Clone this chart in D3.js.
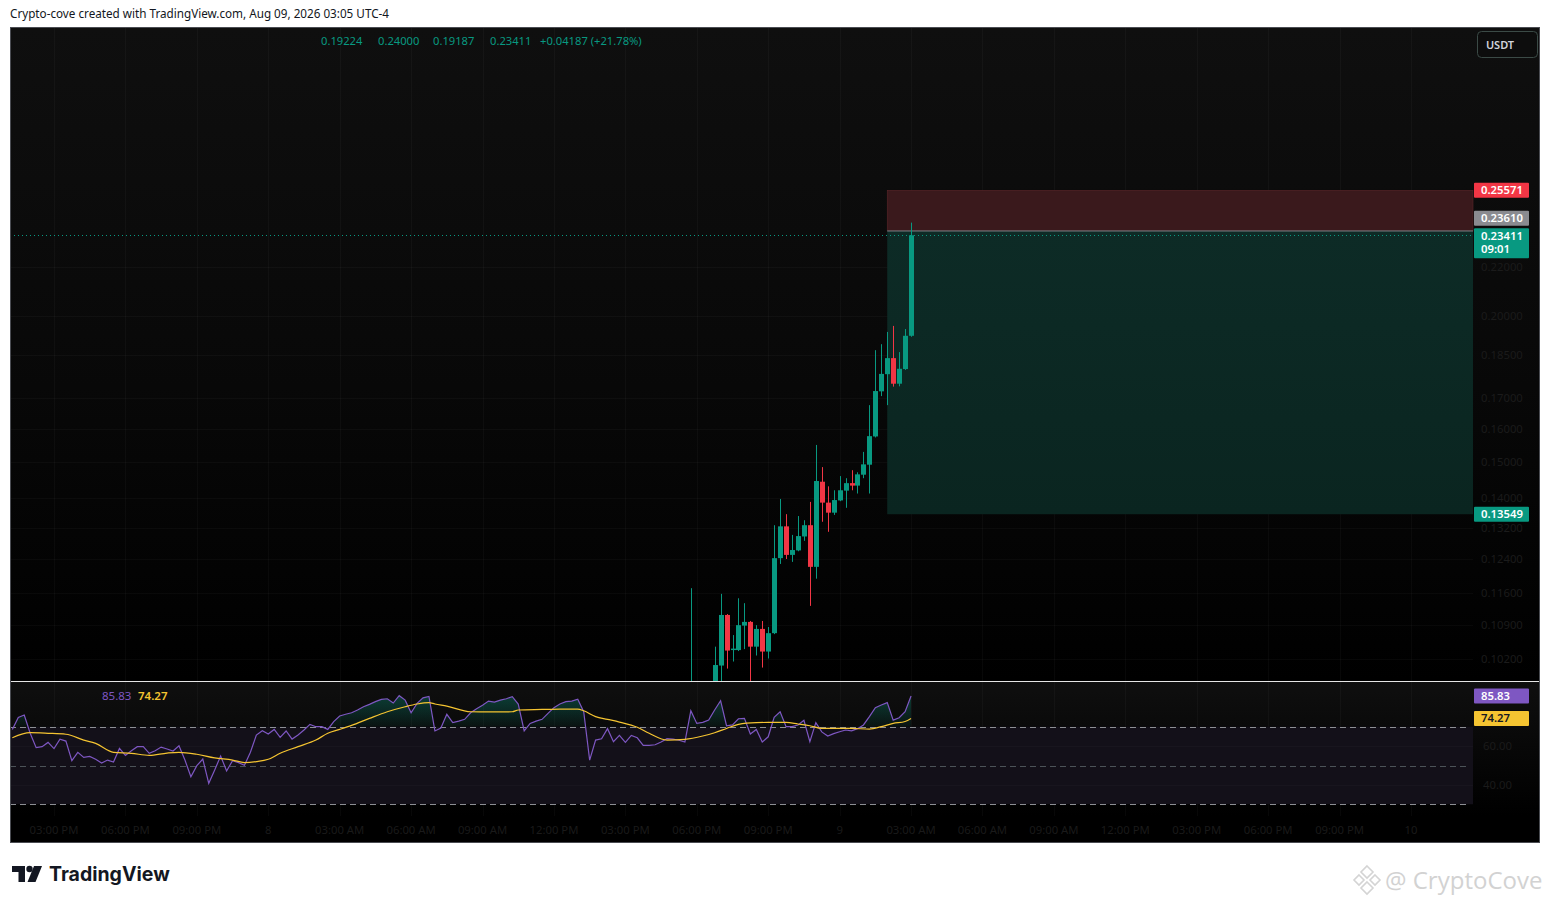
<!DOCTYPE html>
<html><head><meta charset="utf-8">
<script src="https://cdn.jsdelivr.net/npm/d3@7"></script>
<style>html,body{margin:0;padding:0;background:#fff;overflow:hidden}svg{display:block}</style>
</head><body>
<svg id="c" width="1551" height="904"></svg>
<script>
// ---------------- DATA ----------------
const candleStart = new Date(2026, 7, 8, 17, 45);   // first candle (15-minute bars)
const barMinutes = 15;
const candleOpen  = [0.0955,0.0968,0.0962,0.0958,0.0968,0.1007,0.1112,0.1038,0.1038,0.1089,0.1097,0.1045,0.1082,0.1035,0.1073,0.1243,0.1323,0.1251,0.1262,0.1297,0.1326,0.1222,0.1444,0.1386,0.1359,0.1392,0.1419,0.1440,0.1433,0.1464,0.1493,0.1578,0.1724,0.1783,0.1840,0.1750,0.1801,0.19224];
const candleHigh  = [0.1172,0.0975,0.0972,0.0970,0.1045,0.1159,0.1114,0.1069,0.1149,0.1138,0.1099,0.1090,0.1099,0.1086,0.1326,0.1396,0.1355,0.1301,0.1350,0.1339,0.1388,0.1552,0.1486,0.1431,0.1420,0.1460,0.1454,0.1477,0.1471,0.1531,0.1678,0.1869,0.1891,0.1937,0.1960,0.1862,0.1948,0.24000];
const candleLow   = [0.0950,0.0955,0.0950,0.0952,0.0962,0.0972,0.1001,0.1015,0.1036,0.1040,0.0975,0.1027,0.1003,0.1021,0.1071,0.1229,0.1241,0.1234,0.1260,0.1286,0.1132,0.1194,0.1335,0.1309,0.1353,0.1390,0.1372,0.1420,0.1411,0.1454,0.1411,0.1575,0.1708,0.1678,0.1740,0.1741,0.1798,0.19187];
const candleClose = [0.0968,0.0962,0.0958,0.0966,0.1008,0.1112,0.1037,0.1041,0.1090,0.1097,0.1045,0.1082,0.1035,0.1073,0.1243,0.1323,0.1251,0.1263,0.1298,0.1326,0.1222,0.1446,0.1386,0.1359,0.1393,0.1420,0.1440,0.1433,0.1465,0.1494,0.1579,0.1725,0.1784,0.1840,0.1750,0.1802,0.19224,0.23411];

const rsiStart = new Date(2026, 7, 7, 13, 15);
const rsiValues = [68.6,74.8,76.0,66.6,59.2,59.7,61.9,58.7,63.6,62.6,52.5,56.8,54.2,54.7,53.2,51.3,52.8,51.8,58.8,55.2,
  57.6,59.7,59.7,56.3,57.6,59.5,58.5,57.5,60.2,52.8,44.2,49.9,53.3,40.8,47.7,54.9,47.2,52.5,51.5,50.1,
  56.8,65.7,67.9,66.2,68.6,64.5,67.8,63.6,65.7,68.3,71.2,70.0,70.0,68.6,72.6,75.5,76.4,77.2,78.6,80.3,
  81.5,82.9,84.1,84.4,82.2,86.0,83.7,77.2,82.0,84.9,85.6,67.8,69.3,76.4,72.1,72.9,73.8,77.2,79.3,81.0,
  83.2,82.7,83.7,84.4,85.5,81.7,67.8,71.7,72.9,73.8,76.9,79.8,81.7,82.9,83.2,84.2,77.7,52.8,63.1,63.8,
  69.0,62.3,65.5,61.9,65.5,64.3,60.4,60.4,60.7,62.1,63.8,63.6,63.0,62.1,78.2,71.7,72.2,73.4,78.6,83.4,
  70.5,70.9,74.1,74.3,66.2,68.6,62.1,64.8,74.8,77.7,70.0,70.0,70.9,73.3,62.3,72.1,67.3,65.2,66.4,67.4,
  68.3,67.9,69.0,70.9,75.2,79.8,81.2,82.4,73.4,74.6,77.7,85.83];
const rsiMaIndex  = [0,3,6,9,12,14,17,20,23,26,28,31,34,37,39,41,43,45,48,51,53,55,57,60,63,66,68,70,71,73,77,80,84,85,89,92,95,96,98,100,102,105,107,110,113,116,118,120,122,125,127,130,132,134,136,139,141,144,146,148,150,151];
const rsiMaValues = [64.3,66.9,66.6,66.1,63.1,61.4,56.8,56.3,55.2,56.4,56.8,55.8,53.9,52.8,51.5,52.0,53.2,56.3,59.7,63.1,66.6,68.6,70.7,74.3,77.7,80.3,81.7,82.4,81.7,80.6,77.7,77.6,77.7,78.6,78.9,79.1,79.1,78.2,75.2,73.8,72.4,69.7,66.6,63.1,63.5,65.2,66.9,69.1,71.2,72.1,72.2,72.2,71.4,70.5,69.1,69.1,69.1,68.8,70.0,71.7,72.7,74.27];

const priceTicks = [0.22,0.20,0.185,0.17,0.16,0.15,0.14,0.132,0.124,0.116,0.109,0.102];
const priceTickLabels = ["0.22000","0.20000","0.18500","0.17000","0.16000","0.15000","0.14000","0.13200","0.12400","0.11600","0.10900","0.10200"];
const timeTicks = [
  new Date(2026,7,7,15),new Date(2026,7,7,18),new Date(2026,7,7,21),new Date(2026,7,8,0),
  new Date(2026,7,8,3),new Date(2026,7,8,6),new Date(2026,7,8,9),new Date(2026,7,8,12),
  new Date(2026,7,8,15),new Date(2026,7,8,18),new Date(2026,7,8,21),new Date(2026,7,9,0),
  new Date(2026,7,9,3),new Date(2026,7,9,6),new Date(2026,7,9,9),new Date(2026,7,9,12),
  new Date(2026,7,9,15),new Date(2026,7,9,18),new Date(2026,7,9,21),new Date(2026,7,10,0)];
const timeTickLabels = ["03:00 PM","06:00 PM","09:00 PM","8","03:00 AM","06:00 AM","09:00 AM","12:00 PM","03:00 PM","06:00 PM","09:00 PM","9","03:00 AM","06:00 AM","09:00 AM","12:00 PM","03:00 PM","06:00 PM","09:00 PM","10"];
const rsiLevels = [70,50,30];
const rsiTicks = [60,40];
const rsiTickLabels = ["60.00","40.00"];

const ohlcTexts = ["0.19224","0.24000","0.19187","0.23411","+0.04187 (+21.78%)"];
const stopPrice = 0.25571, entryPrice = 0.23610, lastPrice = 0.23411, targetPrice = 0.13549;
const positionStart = new Date(2026, 7, 9, 2, 0);
const countdown = "09:01";
const rsiLast = 85.83, rsiMaLast = 74.27;
const headerText = "Crypto-cove created with TradingView.com, Aug 09, 2026 03:05 UTC-4";

// ---------------- LAYOUT ----------------
const FL = 10, FR = 1540, FT = 27, FB = 843;
const PR = 1473;            // plot right edge (price axis starts)
const MB = 681;             // main pane bottom
const RT = 682, RB = 816;   // rsi pane
const GREEN = "#089981", RED = "#f23645", PURPLE = "#7e57c2", YELLOW = "#f5c431";
const FONT = "'Noto Sans', 'DejaVu Sans', sans-serif";

const svg = d3.select("#c");
const defs = svg.append("defs");

const x = d3.scaleTime().domain([timeTicks[0], timeTicks[timeTicks.length-1]]).range([54, 1411]);
const y = d3.scaleLog().domain([0.102, 0.22]).range([659, 267]);
const yr = d3.scaleLinear().domain([30, 70]).range([804.3, 726.7]);
const addMin = (d, m) => new Date(d.getTime() + m * 60000);

svg.append("rect").attr("width",1551).attr("height",904).attr("fill","#fff");
svg.append("text").attr("x",10).attr("y",18).attr("font-family",FONT).attr("font-size",11.7)
  .attr("fill","#131722").text(headerText);

// gradients
const g1 = defs.append("linearGradient").attr("id","mainBg").attr("x1",0).attr("x2",0).attr("y1",0).attr("y2",1);
g1.append("stop").attr("offset","0%").attr("stop-color","#0f0f0f");
g1.append("stop").attr("offset","55%").attr("stop-color","#080808");
g1.append("stop").attr("offset","100%").attr("stop-color","#000");
const g2 = defs.append("linearGradient").attr("id","rsiBg").attr("x1",0).attr("x2",0).attr("y1",0).attr("y2",1);
g2.append("stop").attr("offset","0%").attr("stop-color","#0f0f0f");
g2.append("stop").attr("offset","100%").attr("stop-color","#000");
const g3 = defs.append("linearGradient").attr("id","tpBg").attr("x1",0).attr("x2",0).attr("y1",0).attr("y2",1);
g3.append("stop").attr("offset","0%").attr("stop-color","#0d2b26");
g3.append("stop").attr("offset","100%").attr("stop-color","#0a2520");
const g4 = defs.append("linearGradient").attr("id","rsiFill").attr("gradientUnits","userSpaceOnUse")
  .attr("x1",0).attr("x2",0).attr("y1",688).attr("y2",yr(70));
g4.append("stop").attr("offset","0%").attr("stop-color",GREEN).attr("stop-opacity",0.42);
g4.append("stop").attr("offset","100%").attr("stop-color",GREEN).attr("stop-opacity",0.06);

defs.append("clipPath").attr("id","mainClip").append("rect").attr("x",FL).attr("y",FT).attr("width",PR-FL).attr("height",MB-FT);
defs.append("clipPath").attr("id","rsiClip").append("rect").attr("x",FL).attr("y",RT).attr("width",PR-FL).attr("height",RB-RT);
defs.append("clipPath").attr("id","obClip").append("rect").attr("x",FL).attr("y",RT).attr("width",PR-FL).attr("height",yr(70)-RT);

// pane backgrounds
svg.append("rect").attr("x",FL).attr("y",FT).attr("width",FR-FL).attr("height",MB-FT).attr("fill","url(#mainBg)");
svg.append("rect").attr("x",FL).attr("y",RT).attr("width",FR-FL).attr("height",RB-RT).attr("fill","url(#rsiBg)");
svg.append("rect").attr("x",FL).attr("y",RB).attr("width",FR-FL).attr("height",FB-RB).attr("fill","#000");

// grid
const grid = svg.append("g").attr("stroke","rgba(255,255,255,0.03)").attr("stroke-width",1);
timeTicks.forEach(t => {
  const xx = Math.round(x(t)) + 0.5;
  grid.append("line").attr("x1",xx).attr("x2",xx).attr("y1",FT).attr("y2",MB);
  grid.append("line").attr("x1",xx).attr("x2",xx).attr("y1",RT).attr("y2",RB);
});
priceTicks.forEach(p => {
  const yy = Math.round(y(p)) + 0.5;
  grid.append("line").attr("x1",FL).attr("x2",PR).attr("y1",yy).attr("y2",yy);
});

// position tool boxes
const px0 = x(positionStart);
svg.append("rect").attr("x",px0).attr("y",y(stopPrice)).attr("width",PR-px0).attr("height",y(entryPrice)-y(stopPrice))
  .attr("fill","#3a191c").attr("stroke","#5a2629").attr("stroke-width",0.6);
svg.append("rect").attr("x",px0).attr("y",y(entryPrice)).attr("width",PR-px0).attr("height",y(targetPrice)-y(entryPrice))
  .attr("fill","url(#tpBg)");
svg.append("line").attr("x1",px0).attr("x2",PR).attr("y1",y(entryPrice)).attr("y2",y(entryPrice))
  .attr("stroke","#7d8087").attr("stroke-width",1);

// candles
const cg = svg.append("g").attr("clip-path","url(#mainClip)");
candleOpen.forEach((o, k) => {
  const c = candleClose[k], h = candleHigh[k], l = candleLow[k];
  const cx = Math.round(x(addMin(candleStart, k * barMinutes)));
  const col = c >= o ? GREEN : RED;
  cg.append("rect").attr("x",cx).attr("y",y(h)).attr("width",1).attr("height",Math.max(1,y(l)-y(h))).attr("fill",col);
  const top = y(Math.max(o,c)), bot = y(Math.min(o,c));
  cg.append("rect").attr("x",cx-2).attr("y",top).attr("width",5).attr("height",Math.max(1,bot-top)).attr("fill",col);
});

// last price dotted line
svg.append("line").attr("x1",FL).attr("x2",PR).attr("y1",Math.round(y(lastPrice))+0.5).attr("y2",Math.round(y(lastPrice))+0.5)
  .attr("stroke",GREEN).attr("stroke-width",1).attr("stroke-dasharray","1,3");

// RSI pane
svg.append("rect").attr("x",FL).attr("y",yr(70)).attr("width",PR-FL).attr("height",yr(30)-yr(70)).attr("fill","#131019");
const rg = svg.append("g");
rsiTicks.forEach(v => rg.append("line").attr("x1",FL).attr("x2",PR).attr("y1",Math.round(yr(v))+0.5).attr("y2",Math.round(yr(v))+0.5)
  .attr("stroke","rgba(255,255,255,0.025)"));
rsiLevels.forEach(v => rg.append("line").attr("x1",FL).attr("x2",PR-4).attr("y1",Math.round(yr(v))+0.5).attr("y2",Math.round(yr(v))+0.5)
  .attr("stroke", v === 50 ? "#4c5358" : "#8d8f94").attr("stroke-width",1).attr("stroke-dasharray","6,4"));

const rx = i => x(addMin(rsiStart, i * barMinutes));
const area = d3.area().x((d,i) => rx(i)).y0(yr(70)).y1(d => yr(d));
svg.append("path").attr("clip-path","url(#obClip)").attr("d",area(rsiValues)).attr("fill","url(#rsiFill)");
const rsiG = svg.append("g").attr("clip-path","url(#rsiClip)");
rsiG.append("path").attr("d", d3.line().x((d,i) => rx(i)).y(d => yr(d))(rsiValues))
  .attr("fill","none").attr("stroke",PURPLE).attr("stroke-width",1.2);
rsiG.append("path").attr("d", d3.line().curve(d3.curveMonotoneX).x((d,i) => rx(rsiMaIndex[i])).y(d => yr(d))(rsiMaValues))
  .attr("fill","none").attr("stroke",YELLOW).attr("stroke-width",1.2);

// pane separator
svg.append("line").attr("x1",FL).attr("x2",FR).attr("y1",681.5).attr("y2",681.5).attr("stroke","#e6e6e6").attr("stroke-width",1);

// axis labels (dim)
const axG = svg.append("g").attr("font-family",FONT).attr("font-size",11.3);
priceTicks.forEach((p,i) => axG.append("text").attr("x",1481).attr("y",y(p)+4).attr("fill","#1b1b1b").text(priceTickLabels[i]));
rsiTicks.forEach((v,i) => axG.append("text").attr("x",1483).attr("y",yr(v)+4).attr("fill","#1b1b1b").text(rsiTickLabels[i]));
timeTicks.forEach((t,i) => axG.append("text").attr("x",x(t)).attr("y",834).attr("text-anchor","middle").attr("fill","#1a1a1a").text(timeTickLabels[i]));

// price label boxes
function tag(cy, h, bg, lines, fg) {
  const g = svg.append("g").attr("font-family",FONT).attr("font-size",11.3).attr("font-weight",600);
  g.append("rect").attr("x",1474).attr("y",cy - 7.5).attr("width",55).attr("height",h).attr("rx",1).attr("fill",bg);
  lines.forEach((s,i) => g.append("text").attr("x",1481).attr("y",cy + 4 + i*13).attr("fill",fg).text(s));
}
const lastY = y(lastPrice);
tag(y(stopPrice), 15, RED, [stopPrice.toFixed(5)], "#fff");
tag(lastY - 17, 15, "#8a8b90", [entryPrice.toFixed(5)], "#fff");
tag(lastY + 0.5, 30, GREEN, [lastPrice.toFixed(5), countdown], "#fff");
tag(y(targetPrice), 15, GREEN, [targetPrice.toFixed(5)], "#fff");
tag(yr(rsiLast), 15, PURPLE, [rsiLast.toFixed(2)], "#fff");
tag(yr(rsiMaLast), 15, YELLOW, [rsiMaLast.toFixed(2)], "#131722");

// legends
const ohlcX = [321, 378, 433, 490, 540];
const lg = svg.append("g").attr("font-family",FONT).attr("font-size",11.2).attr("fill",GREEN);
ohlcTexts.forEach((s,i) => lg.append("text").attr("x",ohlcX[i]).attr("y",45).text(s));
svg.append("text").attr("x",102).attr("y",700).attr("font-family",FONT).attr("font-size",11.5).attr("fill",PURPLE).text(rsiLast.toFixed(2));
svg.append("text").attr("x",138).attr("y",700).attr("font-family",FONT).attr("font-size",11.5).attr("font-weight",600).attr("fill",YELLOW).text(rsiMaLast.toFixed(2));

// USDT button
svg.append("rect").attr("x",1477.5).attr("y",31.5).attr("width",60).attr("height",26).attr("rx",4)
  .attr("fill","#0d0d0d").attr("stroke","#3b4a46");
svg.append("text").attr("x",1500).attr("y",48.5).attr("text-anchor","middle").attr("font-family",FONT).attr("font-size",11)
  .attr("font-weight",600).attr("fill","#d1d4dc").text("USDT");

// frame
svg.append("rect").attr("x",FL+0.5).attr("y",FT+0.5).attr("width",FR-FL-1).attr("height",FB-FT-1)
  .attr("fill","none").attr("stroke","#4a4c52").attr("stroke-width",1);

// TradingView logo
const logo = svg.append("g").attr("fill","#131722");
logo.append("path").attr("d","M12,866 H25 V882 H18.5 V872 H12 Z");
logo.append("circle").attr("cx",29.5).attr("cy",869).attr("r",3.2);
logo.append("path").attr("d","M34,866 H42 L35.5,882 H27.5 Z");
svg.append("text").attr("x",49).attr("y",881).attr("font-family","Inter, 'Noto Sans', sans-serif").attr("font-size",19.5)
  .attr("font-weight",700).attr("fill","#131722").text("TradingView");

// watermark
const wm = svg.append("g").attr("fill","none").attr("stroke","#d4d4d4").attr("stroke-width",1.6);
[[1367,872,6],[1359,880,5],[1375,880,5],[1367,888,6]].forEach(([cx,cy,r]) =>
  wm.append("path").attr("d",`M${cx},${cy-r} L${cx+r},${cy} L${cx},${cy+r} L${cx-r},${cy} Z`));
svg.append("text").attr("x",1385).attr("y",889).attr("font-family","'Open Sans', 'Noto Sans', sans-serif").attr("font-size",24)
  .attr("fill","#d2d2d2").text("@ CryptoCove");
</script>
</body></html>
